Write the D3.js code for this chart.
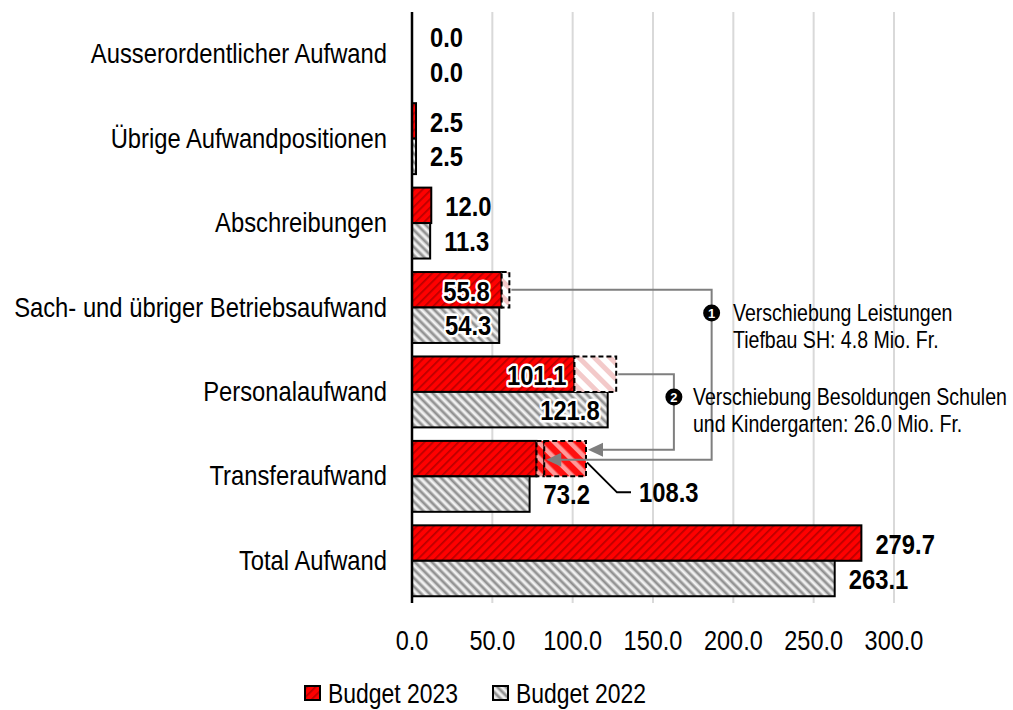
<!DOCTYPE html>
<html><head><meta charset="utf-8">
<script src="https://cdn.jsdelivr.net/npm/d3@7"></script>
<style>html,body{margin:0;padding:0;background:#fff;}svg{display:block;}</style>
</head><body>
<svg id="c" width="1013" height="710"></svg>
<script>
// ---- data ----
const categories = ["Ausserordentlicher Aufwand","Übrige Aufwandpositionen","Abschreibungen","Sach- und übriger Betriebsaufwand","Personalaufwand","Transferaufwand","Total Aufwand"];
const budget2023 = [0.0, 2.5, 12.0, 55.8, 101.1, 108.3, 279.7];
const budget2022 = [0.0, 2.5, 11.3, 54.3, 121.8, 73.2, 263.1];
const tickValues = [0, 50, 100, 150, 200, 250, 300];
const seriesNames = ["Budget 2023", "Budget 2022"];
// shifts moved into Transferaufwand 2023
const shiftFrom = ["Sach- und übriger Betriebsaufwand", "Personalaufwand"];
const shiftValues = [4.8, 26.0];
const shiftTarget = "Transferaufwand";
const shiftText = [["Verschiebung Leistungen","Tiefbau SH: 4.8 Mio. Fr."],["Verschiebung Besoldungen Schulen","und Kindergarten: 26.0 Mio. Fr."]];
const insideLabelCats = ["Sach- und übriger Betriebsaufwand","Personalaufwand"];

const FONT = "'Liberation Sans', Arial, Helvetica, sans-serif";
const SX = 0.85;
const svg = d3.select("#c");

// ---- patterns ----
const defs = svg.append("defs");
function stripePattern(id, w, base, lines, rot){
  const p = defs.append("pattern").attr("id", id).attr("patternUnits","userSpaceOnUse")
    .attr("width", w).attr("height", w).attr("patternTransform", `rotate(${rot})`);
  p.append("rect").attr("width", w).attr("height", w).attr("fill", base);
  lines.forEach(l => p.append("rect").attr("x", l.x).attr("y", 0).attr("width", l.w).attr("height", w).attr("fill", l.c));
}
stripePattern("red", 6, "#ff0000", [{x:0,w:1.7,c:"#b80000"}], 45);
stripePattern("gray", 6, "#c8c8c8", [{x:0,w:1.8,c:"#f4f4f4"},{x:3,w:1.8,c:"#8e8e8e"}], -45);
stripePattern("pink", 11, "#ffffff", [{x:0,w:5,c:"#f3caca"}], -45);
stripePattern("redlight", 11, "#ff1010", [{x:0,w:4.5,c:"#ff9a9a"}], -45);

// ---- scales ----
const x = d3.scaleLinear().domain([0, 300]).range([412, 894]);
const y = d3.scaleBand().domain(categories).range([12, 603]).paddingInner(0.16).paddingOuter(0.08);
const bh = y.bandwidth()/2;
const idx = c => categories.indexOf(c);

function txt(parent, px, py, s, o={}){
  const g = parent.append("g").attr("transform", `translate(${px},${py}) scale(${o.sx||SX},1)`);
  const t = g.append("text").text(s).attr("font-family", FONT).attr("font-size", o.size||28)
    .attr("font-weight", o.bold?"bold":"normal").attr("text-anchor", o.anchor||"start").attr("fill", o.fill||"#000");
  if(o.halo){ t.attr("stroke","#fff").attr("stroke-width",5).attr("stroke-linejoin","round").attr("paint-order","stroke"); }
  return t;
}

// ---- gridlines ----
svg.append("g").selectAll("line").data(tickValues.slice(1)).join("line")
  .attr("x1", d=>x(d)).attr("x2", d=>x(d)).attr("y1", 12).attr("y2", 603)
  .attr("stroke", "#d9d9d9").attr("stroke-width", 2);

// tick labels
const tl = svg.append("g");
tickValues.forEach(v => txt(tl, x(v), 650, d3.format(".1f")(v), {anchor:"middle", size:28, sx:0.84}));

// ---- bars ----
const bars = svg.append("g");
const tIdx = idx(shiftTarget);
const shiftSum = d3.sum(shiftValues);
categories.forEach((c,i) => {
  const y0 = y(c);
  let v23 = budget2023[i];
  if(c === shiftTarget) v23 = budget2023[i] - shiftSum;
  bars.append("rect").attr("x", x(0)).attr("y", y0).attr("width", x(v23)-x(0)).attr("height", bh)
    .attr("fill", "url(#red)").attr("stroke", "#000").attr("stroke-width", 2);
  bars.append("rect").attr("x", x(0)).attr("y", y0+bh).attr("width", x(budget2022[i])-x(0)).attr("height", bh)
    .attr("fill", "url(#gray)").attr("stroke", "#000").attr("stroke-width", 2);
});

// dashed boxes at origin
shiftFrom.forEach((c,k) => {
  const i = idx(c), v = budget2023[i];
  bars.append("rect").attr("x", x(v)).attr("y", y(c)).attr("width", x(v+shiftValues[k])-x(v)).attr("height", bh)
    .attr("fill", "url(#pink)").attr("stroke", "#000").attr("stroke-width", 2).attr("stroke-dasharray", "5,3");
});
// segments in target
let acc = budget2023[tIdx] - shiftSum;
const segEnds = [];
shiftValues.forEach(v => {
  bars.append("rect").attr("x", x(acc)).attr("y", y(shiftTarget)).attr("width", x(acc+v)-x(acc)).attr("height", bh)
    .attr("fill", "url(#redlight)").attr("stroke", "#000").attr("stroke-width", 2).attr("stroke-dasharray", "5,3");
  segEnds.push([acc, acc+v]);
  acc += v;
});

// axis line
svg.append("line").attr("x1", x(0)).attr("x2", x(0)).attr("y1", 12).attr("y2", 603).attr("stroke", "#000").attr("stroke-width", 2.5);

// ---- connectors ----
const conn = svg.append("g");
const vx = [x(186.5), x(163)];
const arrowY = [y(shiftTarget)+bh/2+1, y(shiftTarget)+bh/2-9];
const arrowTip = [x(segEnds[0][1])+2, x(segEnds[1][1])+2];
shiftFrom.forEach((c,k) => {
  const i = idx(c);
  const sx0 = x(budget2023[i]+shiftValues[k]) + 2;
  const sy = y(c) + bh/2;
  conn.append("polyline").attr("points", [[sx0,sy],[vx[k],sy],[vx[k],arrowY[k]],[arrowTip[k]+13,arrowY[k]]].map(p=>p.join(",")).join(" "))
    .attr("fill","none").attr("stroke","#7f7f7f").attr("stroke-width",2);
  conn.append("path").attr("d", `M${arrowTip[k]},${arrowY[k]} L${arrowTip[k]+15},${arrowY[k]-7} L${arrowTip[k]+15},${arrowY[k]+7} Z`).attr("fill","#7f7f7f");
});
// numbered markers + text
const markY = [313, 397];
const textX = [733, 693];
shiftText.forEach((lines,k) => {
  conn.append("circle").attr("cx", vx[k]).attr("cy", markY[k]).attr("r", 8.5).attr("fill", "#000");
  conn.append("text").attr("x", vx[k]).attr("y", markY[k]+5).attr("text-anchor","middle").attr("font-family",FONT)
    .attr("font-weight","bold").attr("font-size",13).attr("fill","#fff").text(String(k+1));
  txt(conn, textX[k], markY[k]+8, lines[0], {size:23});
  txt(conn, textX[k], markY[k]+35, lines[1], {size:23});
});

// ---- category labels ----
const cl = svg.append("g");
categories.forEach(c => txt(cl, 387, y(c)+y.bandwidth()/2+9, c, {anchor:"end", size:28}));

// ---- value labels ----
const vl = svg.append("g");
categories.forEach((c,i) => {
  const inside = insideLabelCats.includes(c);
  const vals = [budget2023[i], budget2022[i]];
  vals.forEach((v,s) => {
    const cy = y(c) + bh*s + bh/2 + (s===0?11:10);
    const s23 = d3.format(".1f")(v);
    if(inside){
      const end = s===0 && v < 60 ? x(v)-12 : x(v)-8;
      txt(vl, end, cy, s23, {anchor:"end", bold:true, halo:true});
    } else if(c === shiftTarget && s===0){
      // leader label
      const bx = x(v), by = y(c)+bh;
      vl.append("polyline").attr("points", `${bx+1},${by-14} ${bx+31},${by+16} ${bx+45},${by+16}`).attr("fill","none").attr("stroke","#000").attr("stroke-width",2);
      txt(vl, bx+53, by+26, s23, {bold:true});
    } else {
      txt(vl, Math.max(x(v)+14, 430), cy, s23, {bold:true});
    }
  });
});

// ---- legend ----
const lg = svg.append("g");
const lgX = [305, 493];
seriesNames.forEach((n,k) => {
  lg.append("rect").attr("x", lgX[k]).attr("y", 686).attr("width", 15).attr("height", 14)
    .attr("fill", k===0?"url(#red)":"url(#gray)").attr("stroke","#000").attr("stroke-width",2);
  txt(lg, lgX[k]+23, 703, n, {size:27});
});
</script>
</body></html>
